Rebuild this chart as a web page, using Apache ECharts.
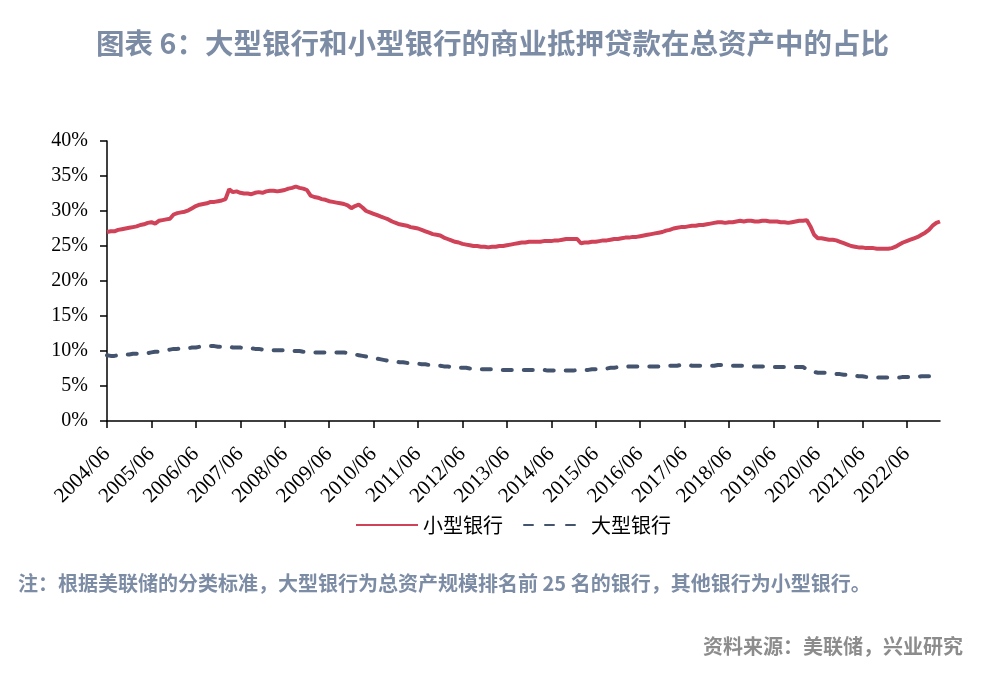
<!DOCTYPE html>
<html>
<head>
<meta charset="utf-8">
<script src="https://cdn.jsdelivr.net/npm/echarts@6/dist/echarts.min.js"></script>
<style>
html,body{margin:0;padding:0;background:#fff;}
#chart{width:985px;height:681px;}
</style>
</head>
<body>
<div id="chart"></div>
<script>
// Monthly observations from 2004/06 to 2023/03 (share of total assets, %)
var startYear = 2004, startMonth = 6, monthCount = 226;

var smallBanks = [
  27.0, 27.1, 27.1, 27.3, 27.4, 27.5, 27.6, 27.7, 27.8, 28.0, 28.1, 28.3,
  28.4, 28.2, 28.6, 28.7, 28.8, 28.9, 29.5, 29.7, 29.8, 29.9, 30.1, 30.4,
  30.7, 30.9, 31.0, 31.1, 31.3, 31.3, 31.4, 31.5, 31.7, 33.1, 32.7, 32.8,
  32.6, 32.5, 32.5, 32.4, 32.6, 32.7, 32.6, 32.8, 32.9, 32.9, 32.8, 32.9,
  33.0, 33.2, 33.3, 33.5, 33.3, 33.2, 33.0, 32.2, 32.0, 31.9, 31.7, 31.6,
  31.4, 31.3, 31.2, 31.1, 31.0, 30.8, 30.4, 30.7, 30.9, 30.5, 30.0, 29.8,
  29.6, 29.4, 29.2, 29.0, 28.8, 28.5, 28.3, 28.1, 28.0, 27.9, 27.7, 27.6,
  27.5, 27.3, 27.1, 26.9, 26.7, 26.6, 26.5, 26.2, 26.0, 25.8, 25.6, 25.5,
  25.3, 25.2, 25.1, 25.0, 25.0, 24.9, 24.9, 24.8, 24.9, 24.9, 25.0, 25.0,
  25.1, 25.2, 25.3, 25.4, 25.5, 25.5, 25.6, 25.6, 25.6, 25.6, 25.7, 25.7,
  25.7, 25.8, 25.8, 25.9, 26.0, 26.0, 26.0, 26.0, 25.4, 25.5, 25.5, 25.6,
  25.6, 25.7, 25.8, 25.8, 25.9, 26.0, 26.0, 26.1, 26.2, 26.2, 26.3, 26.3,
  26.4, 26.5, 26.6, 26.7, 26.8, 26.9, 27.0, 27.2, 27.3, 27.5, 27.6, 27.7,
  27.7, 27.8, 27.9, 27.9, 28.0, 28.0, 28.1, 28.2, 28.3, 28.4, 28.4, 28.3,
  28.4, 28.4, 28.5, 28.6, 28.5, 28.6, 28.6, 28.5, 28.5, 28.6, 28.6, 28.5,
  28.5, 28.5, 28.4, 28.4, 28.3, 28.4, 28.5, 28.6, 28.6, 28.7, 27.8, 26.6,
  26.1, 26.1, 26.0, 25.9, 25.9, 25.8, 25.6, 25.4, 25.2, 25.0, 24.9, 24.8,
  24.8, 24.7, 24.7, 24.7, 24.6, 24.6, 24.6, 24.6, 24.7, 24.9, 25.2, 25.5,
  25.7, 25.9, 26.1, 26.3, 26.6, 26.9, 27.3, 27.9, 28.3, 28.5
];

var largeBanks = [
  9.4, 9.3, 9.3, 9.4, 9.4, 9.5, 9.5, 9.6, 9.6, 9.6, 9.7, 9.7,
  9.8, 9.9, 9.9, 10.0, 10.1, 10.2, 10.3, 10.3, 10.4, 10.4, 10.4, 10.5,
  10.5, 10.6, 10.6, 10.6, 10.7, 10.7, 10.6, 10.6, 10.6, 10.6, 10.5, 10.5,
  10.5, 10.4, 10.4, 10.4, 10.3, 10.3, 10.2, 10.2, 10.2, 10.1, 10.1, 10.1,
  10.1, 10.0, 10.0, 10.0, 10.0, 9.9, 9.9, 9.9, 9.8, 9.8, 9.8, 9.8,
  9.8, 9.8, 9.8, 9.8, 9.8, 9.7, 9.6, 9.5, 9.4, 9.3, 9.2, 9.1,
  9.0, 8.9, 8.8, 8.7, 8.6, 8.5, 8.5, 8.4, 8.4, 8.3, 8.3, 8.2,
  8.2, 8.1, 8.1, 8.0, 8.0, 7.9, 7.9, 7.8, 7.8, 7.7, 7.7, 7.6,
  7.6, 7.6, 7.5, 7.5, 7.5, 7.4, 7.4, 7.4, 7.4, 7.4, 7.3, 7.3,
  7.3, 7.3, 7.3, 7.3, 7.3, 7.3, 7.3, 7.3, 7.3, 7.3, 7.3, 7.2,
  7.2, 7.2, 7.2, 7.2, 7.2, 7.2, 7.2, 7.3, 7.3, 7.3, 7.3, 7.4,
  7.4, 7.4, 7.5, 7.5, 7.6, 7.6, 7.7, 7.7, 7.7, 7.8, 7.8, 7.8,
  7.8, 7.8, 7.8, 7.8, 7.8, 7.8, 7.9, 7.9, 7.9, 7.9, 7.9, 8.0,
  8.0, 8.0, 7.9, 7.9, 7.9, 7.9, 7.9, 7.9, 7.9, 8.0, 8.0, 8.0,
  8.0, 7.9, 7.9, 7.9, 7.9, 7.8, 7.8, 7.8, 7.8, 7.8, 7.8, 7.7,
  7.7, 7.7, 7.7, 7.7, 7.7, 7.7, 7.7, 7.7, 7.7, 7.4, 7.1, 7.0,
  6.9, 6.9, 6.9, 6.8, 6.8, 6.7, 6.7, 6.6, 6.6, 6.5, 6.5, 6.4,
  6.4, 6.3, 6.3, 6.2, 6.2, 6.2, 6.2, 6.2, 6.2, 6.2, 6.2, 6.3,
  6.3, 6.3, 6.3, 6.3, 6.4, 6.4, 6.4, 6.4, 6.4, 6.5
];

var seriesNames = ['小型银行', '大型银行'];
var titleText = '图表 6：大型银行和小型银行的商业抵押贷款在总资产中的占比';
var noteText = '注：根据美联储的分类标准，大型银行为总资产规模排名前 25 名的银行，其他银行为小型银行。';
var sourceText = '资料来源：美联储，兴业研究';

var categories = [];
for (var i = 0; i < monthCount; i++) {
  var mm = startMonth - 1 + i;
  var y = startYear + Math.floor(mm / 12);
  var m = (mm % 12) + 1;
  categories.push(y + '/' + (m < 10 ? '0' + m : m));
}

var chart = echarts.init(document.getElementById('chart'));
var serif = '"Liberation Serif", "Times New Roman", serif';
var cjk = '"Noto Sans CJK SC", sans-serif';

chart.setOption({
  backgroundColor: '#ffffff',
  animation: false,
  title: {
    text: titleText,
    left: 'center',
    top: 24,
    textStyle: { fontFamily: cjk, fontSize: 28.5, fontWeight: 'bold', color: '#7d8ca5' }
  },
  legend: {
    data: seriesNames,
    top: 510,
    left: 350,
    itemWidth: 62,
    itemHeight: 14,
    itemGap: 20,
    itemStyle: { opacity: 0 },
    textStyle: { fontFamily: cjk, fontSize: 20, color: '#000000' }
  },
  grid: { left: 107, right: 45, top: 141, bottom: 260, containLabel: false },
  xAxis: {
    type: 'category',
    data: categories,
    boundaryGap: false,
    axisLine: { lineStyle: { color: '#000000', width: 1.5 } },
    axisTick: { show: true, interval: 11, length: 7, lineStyle: { color: '#000000', width: 1.5 } },
    axisLabel: {
      interval: 11,
      rotate: 45,
      margin: 30,
      fontFamily: serif,
      fontSize: 21,
      color: '#000000'
    },
    splitLine: { show: false }
  },
  yAxis: {
    type: 'value',
    min: 0,
    max: 40,
    interval: 5,
    axisLine: { show: true, lineStyle: { color: '#000000', width: 1.5 } },
    axisTick: { show: true, length: 7, lineStyle: { color: '#000000', width: 1.5 } },
    axisLabel: { formatter: '{value}%', margin: 19, fontFamily: serif, fontSize: 20, color: '#000000' },
    splitLine: { show: false }
  },
  series: [
    {
      name: seriesNames[0],
      type: 'line',
      data: smallBanks,
      symbol: 'none',
      lineStyle: { color: '#cf4257', width: 4 },
      itemStyle: { color: '#cf4257' }
    },
    {
      name: seriesNames[1],
      type: 'line',
      data: largeBanks,
      symbol: 'none',
      lineStyle: { color: '#44546f', width: 4, type: [9, 12], cap: 'round' },
      itemStyle: { color: '#44546f' }
    }
  ],
  graphic: [
    {
      type: 'text',
      left: 18,
      top: 573,
      style: { text: noteText, fontFamily: cjk, fontSize: 20, fontWeight: 'bold', fill: '#7d8ca5' }
    },
    {
      type: 'text',
      right: 22,
      top: 636,
      style: { text: sourceText, fontFamily: cjk, fontSize: 20, fontWeight: 'bold', fill: '#8c8c8c' }
    }
  ]
});
</script>
</body>
</html>
